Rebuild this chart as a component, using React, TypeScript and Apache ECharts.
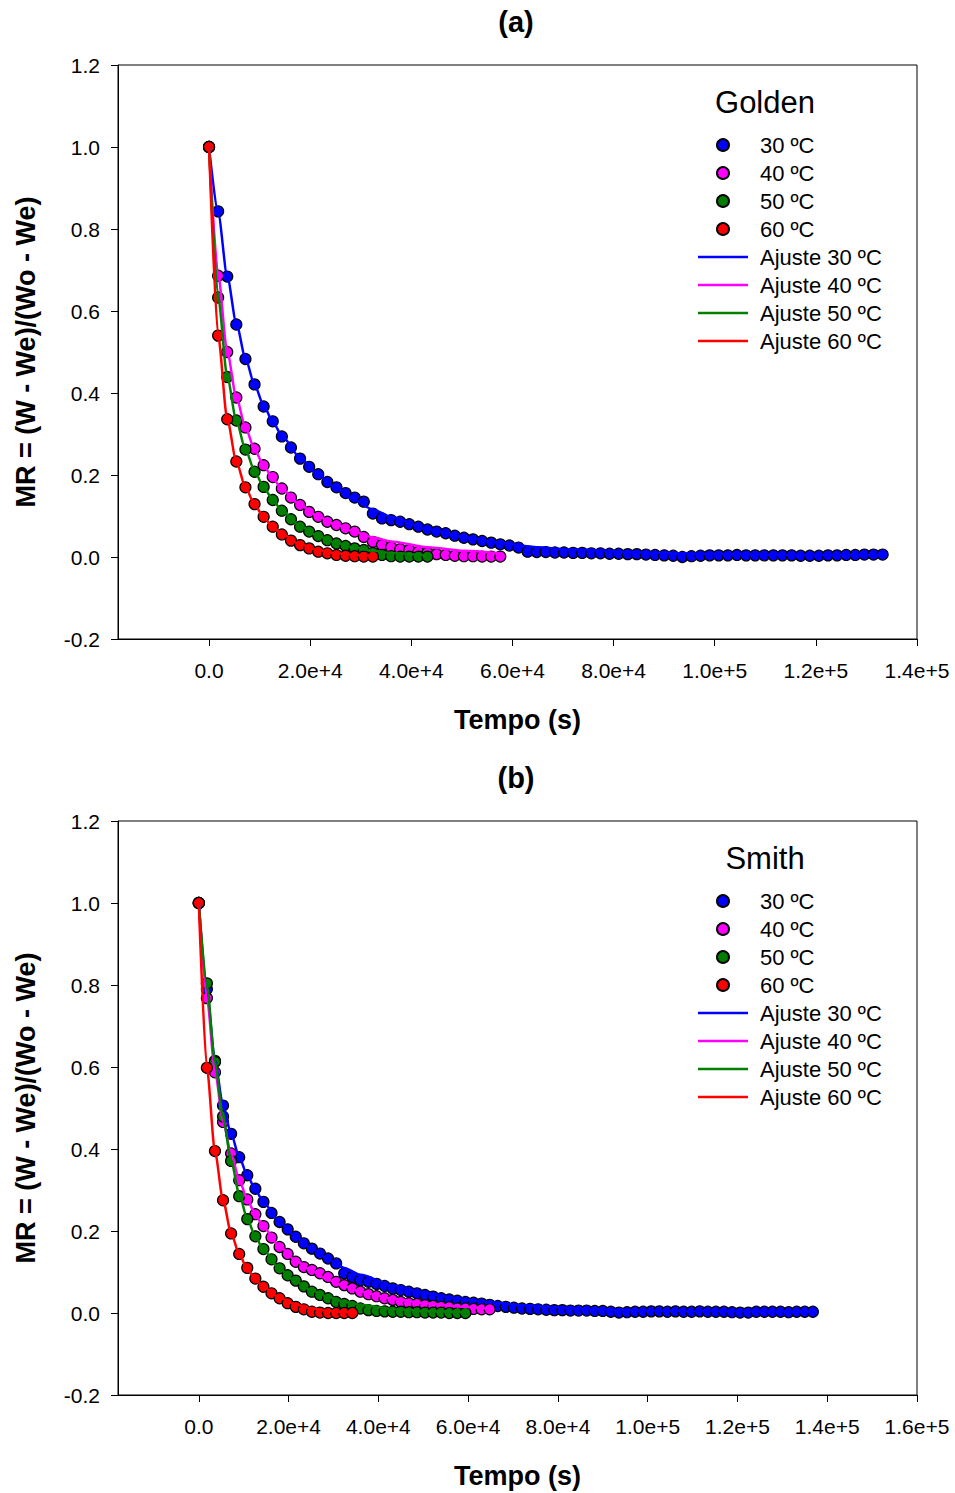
import React, { useEffect, useRef } from 'react';
import * as echarts from 'echarts';

const FONT = '"Liberation Sans", Arial, Helvetica, sans-serif';
const SAMPLE_INTERVAL_S = 1800;

const TEMP_NAMES = ['30 ºC', '40 ºC', '50 ºC', '60 ºC'];
const FIT_NAMES = ['Ajuste 30 ºC', 'Ajuste 40 ºC', 'Ajuste 50 ºC', 'Ajuste 60 ºC'];
const COLORS = ['#0000FF', '#FF00FF', '#007F00', '#FF0000'];
const PANEL_TITLES = ['(a)', '(b)'];
const MODEL_NAMES = ['Golden', 'Smith'];
const X_MAX = [140000, 160000];
const X_TICKS_A = [0, 20000, 40000, 60000, 80000, 100000, 120000, 140000];
const X_TICKS_B = [0, 20000, 40000, 60000, 80000, 100000, 120000, 140000, 160000];

// ---- Panel (a): Golden ----
const golden30 = [
  1.000, 0.843, 0.684, 0.567, 0.483, 0.421, 0.367, 0.331, 0.294, 0.267,
  0.240, 0.220, 0.202, 0.183, 0.170, 0.156, 0.145, 0.135, 0.106, 0.094,
  0.090, 0.086, 0.080, 0.074, 0.067, 0.062, 0.058, 0.052, 0.047, 0.043,
  0.039, 0.035, 0.031, 0.028, 0.023, 0.013, 0.012, 0.012, 0.011, 0.011,
  0.010, 0.010, 0.009, 0.009, 0.008, 0.008, 0.007, 0.007, 0.006, 0.005,
  0.004, 0.003, 0.000, 0.002, 0.003, 0.004, 0.004, 0.004, 0.005, 0.004,
  0.004, 0.004, 0.004, 0.004, 0.004, 0.003, 0.003, 0.003, 0.004, 0.004,
  0.005, 0.005, 0.006, 0.006, 0.006,
];
const golden40 = [
  1.000, 0.686, 0.500, 0.389, 0.316, 0.264, 0.224, 0.195, 0.167, 0.145,
  0.127, 0.110, 0.098, 0.086, 0.078, 0.070, 0.062, 0.049, 0.037, 0.029,
  0.024, 0.019, 0.017, 0.013, 0.010, 0.007, 0.005, 0.003, 0.002, 0.002,
  0.001, 0.001, 0.001,
];
const golden50 = [
  1.000, 0.633, 0.439, 0.333, 0.262, 0.208, 0.171, 0.139, 0.113, 0.092,
  0.074, 0.062, 0.051, 0.041, 0.033, 0.027, 0.021, 0.017, 0.010, 0.005,
  0.002, 0.001, 0.001, 0.001, 0.001,
];
const golden60 = [
  1.000, 0.540, 0.336, 0.233, 0.170, 0.129, 0.098, 0.074, 0.055, 0.040,
  0.029, 0.021, 0.013, 0.009, 0.005, 0.003, 0.002, 0.001, 0.001,
];

// Fitted curves (a)
const fitGolden30T = [0, 1800, 3600, 5400, 7200, 9000, 10800, 12600, 14400, 18000, 21600, 25200, 28800, 32400, 36000, 43200, 50400, 57600, 64800, 72000, 86400, 100800, 115200, 133200];
const fitGolden30V = [1.0, 0.84, 0.685, 0.57, 0.485, 0.42, 0.37, 0.33, 0.296, 0.242, 0.2, 0.166, 0.138, 0.116, 0.098, 0.068, 0.049, 0.034, 0.024, 0.018, 0.011, 0.007, 0.005, 0.004];
const fitGolden40T = [0, 1800, 3600, 5400, 7200, 9000, 10800, 12600, 14400, 18000, 21600, 25200, 28800, 32400, 36000, 43200, 50400, 57600];
const fitGolden40V = [1.0, 0.69, 0.5, 0.39, 0.316, 0.263, 0.223, 0.192, 0.166, 0.127, 0.099, 0.078, 0.061, 0.048, 0.038, 0.024, 0.015, 0.009];
const fitGolden50T = [0, 1800, 3600, 5400, 7200, 9000, 10800, 12600, 14400, 18000, 21600, 25200, 28800, 32400, 36000, 43200];
const fitGolden50V = [1.0, 0.635, 0.44, 0.333, 0.262, 0.21, 0.171, 0.139, 0.113, 0.076, 0.051, 0.034, 0.023, 0.015, 0.01, 0.004];
const fitGolden60T = [0, 1800, 3600, 5400, 7200, 9000, 10800, 12600, 14400, 18000, 21600, 25200, 28800, 32400];
const fitGolden60V = [1.0, 0.54, 0.336, 0.233, 0.17, 0.128, 0.097, 0.074, 0.056, 0.031, 0.017, 0.009, 0.005, 0.003];

// ---- Panel (b): Smith ----
const smith30 = [
  1.000, 0.790, 0.615, 0.506, 0.437, 0.380, 0.336, 0.303, 0.271, 0.244,
  0.222, 0.204, 0.186, 0.170, 0.157, 0.145, 0.133, 0.121, 0.097, 0.088,
  0.080, 0.076, 0.071, 0.066, 0.060, 0.056, 0.052, 0.048, 0.044, 0.040,
  0.036, 0.033, 0.030, 0.027, 0.025, 0.023, 0.020, 0.017, 0.015, 0.013,
  0.011, 0.010, 0.009, 0.008, 0.007, 0.007, 0.006, 0.006, 0.006, 0.005,
  0.005, 0.003, 0.001, 0.002, 0.003, 0.003, 0.004, 0.004, 0.003, 0.004,
  0.003, 0.003, 0.004, 0.003, 0.003, 0.003, 0.002, 0.001, 0.001, 0.003,
  0.003, 0.003, 0.003, 0.002, 0.003, 0.003, 0.003,
];
const smith40 = [
  1.000, 0.768, 0.587, 0.466, 0.389, 0.324, 0.277, 0.241, 0.212, 0.184,
  0.161, 0.144, 0.125, 0.112, 0.105, 0.097, 0.088, 0.076, 0.068, 0.060,
  0.052, 0.046, 0.041, 0.036, 0.032, 0.027, 0.024, 0.022, 0.019, 0.017,
  0.015, 0.014, 0.011, 0.011, 0.010, 0.009, 0.009,
];
const smith50 = [
  1.000, 0.804, 0.612, 0.479, 0.371, 0.285, 0.229, 0.187, 0.156, 0.131,
  0.109, 0.092, 0.079, 0.065, 0.052, 0.044, 0.036, 0.027, 0.022, 0.017,
  0.011, 0.007, 0.005, 0.004, 0.003, 0.003, 0.002, 0.002, 0.001, 0.001,
  0.001, 0.000, 0.000, 0.000,
];
const smith60 = [
  1.000, 0.598, 0.395, 0.275, 0.194, 0.144, 0.110, 0.084, 0.064, 0.048,
  0.036, 0.024, 0.015, 0.009, 0.003, 0.001, 0.000, 0.000, 0.000, 0.000,
];

// Fitted curves (b)
const fitSmith30T = [0, 1800, 3600, 5400, 7200, 9000, 10800, 12600, 14400, 18000, 21600, 25200, 28800, 32400, 36000, 43200, 50400, 57600, 64800, 72000, 86400, 100800, 115200, 136800];
const fitSmith30V = [1.0, 0.785, 0.615, 0.506, 0.437, 0.381, 0.336, 0.301, 0.27, 0.222, 0.186, 0.156, 0.131, 0.11, 0.093, 0.067, 0.049, 0.036, 0.026, 0.019, 0.01, 0.006, 0.004, 0.003];
const fitSmith40T = [0, 1800, 3600, 5400, 7200, 9000, 10800, 12600, 14400, 18000, 21600, 25200, 28800, 32400, 36000, 43200, 50400, 57600, 64800];
const fitSmith40V = [1.0, 0.77, 0.59, 0.468, 0.388, 0.325, 0.277, 0.24, 0.21, 0.162, 0.128, 0.102, 0.081, 0.065, 0.052, 0.035, 0.024, 0.016, 0.011];
const fitSmith50T = [0, 1800, 3600, 5400, 7200, 9000, 10800, 12600, 14400, 18000, 21600, 25200, 28800, 32400, 36000, 43200, 50400, 59400];
const fitSmith50V = [1.0, 0.8, 0.612, 0.478, 0.372, 0.29, 0.23, 0.186, 0.154, 0.107, 0.076, 0.055, 0.039, 0.028, 0.02, 0.01, 0.005, 0.002];
const fitSmith60T = [0, 1800, 3600, 5400, 7200, 9000, 10800, 12600, 14400, 18000, 21600, 25200, 28800, 34200];
const fitSmith60V = [1.0, 0.598, 0.394, 0.275, 0.195, 0.143, 0.108, 0.082, 0.063, 0.037, 0.021, 0.011, 0.005, 0.001];

const POINTS = [
  [golden30, golden40, golden50, golden60],
  [smith30, smith40, smith50, smith60],
];
const FITS = [
  [[fitGolden30T, fitGolden30V], [fitGolden40T, fitGolden40V], [fitGolden50T, fitGolden50V], [fitGolden60T, fitGolden60V]],
  [[fitSmith30T, fitSmith30V], [fitSmith40T, fitSmith40V], [fitSmith50T, fitSmith50V], [fitSmith60T, fitSmith60V]],
];

const toPairs = (vals: number[]) => vals.map((v, i) => [i * SAMPLE_INTERVAL_S, v]);
const zip = (t: number[], v: number[]) => t.map((x, i) => [x, v[i]]);

const fmtX = (v: number) => {
  if (v === 0) return '0.0';
  const e = Math.floor(Math.log10(Math.abs(v)) + 1e-9);
  const m = v / Math.pow(10, e);
  return m.toFixed(1) + 'e+' + e;
};

const GRID_TOPS = [65, 821];
const LINE_ICON = 'path://M0,0 L50,0 L50,2.5 L0,2.5 Z';

function buildOption() {
  const grids = GRID_TOPS.map((top) => ({
    left: 118, top, width: 799, height: 574,
    show: true, borderColor: '#000', borderWidth: 1, backgroundColor: 'transparent',
  }));
  const xAxes = [0, 1].map((p) => {
    const ticks = p === 0 ? X_TICKS_A : X_TICKS_B;
    return {
      type: 'value', gridIndex: p, min: -18000, max: X_MAX[p],
      position: 'bottom',
      name: 'Tempo (s)', nameLocation: 'middle', nameGap: 67,
      nameTextStyle: { fontFamily: FONT, fontSize: 27, fontWeight: 'bold', color: '#000' },
      axisLine: { show: true, onZero: false, lineStyle: { color: '#000', width: 1 } },
      axisTick: { show: true, inside: false, length: 7, customValues: ticks, lineStyle: { color: '#000' } },
      axisLabel: { customValues: ticks, formatter: fmtX, fontFamily: FONT, fontSize: 21, color: '#000', margin: 21 },
      splitLine: { show: false },
    };
  });
  const yAxes = [0, 1].map((p) => ({
    type: 'value', gridIndex: p, min: -0.2, max: 1.2, interval: 0.2,
    name: 'MR = (W - We)/(Wo - We)', nameLocation: 'middle', nameGap: 79,
    nameTextStyle: { fontFamily: FONT, fontSize: 27, fontWeight: 'bold', color: '#000' },
    axisLine: { show: true, onZero: false, lineStyle: { color: '#000', width: 1 } },
    axisTick: { show: true, inside: false, length: 7, lineStyle: { color: '#000' } },
    axisLabel: { formatter: (v: number) => v.toFixed(1), fontFamily: FONT, fontSize: 21, color: '#000', margin: 18 },
    splitLine: { show: false },
  }));

  const series: any[] = [];
  for (let p = 0; p < 2; p++) {
    for (let k = 0; k < 4; k++) {
      series.push({
        type: 'scatter', name: TEMP_NAMES[k], xAxisIndex: p, yAxisIndex: p,
        data: toPairs(POINTS[p][k]), symbol: 'circle', symbolSize: 11, z: 2,
        itemStyle: { color: COLORS[k], borderColor: '#000', borderWidth: 1.2, opacity: 1 },
      });
    }
    for (let k = 0; k < 4; k++) {
      series.push({
        type: 'line', name: FIT_NAMES[k], xAxisIndex: p, yAxisIndex: p,
        data: zip(FITS[p][k][0], FITS[p][k][1]), showSymbol: false, symbol: 'none',
        smooth: 0.25, smoothMonotone: 'x', z: 3,
        lineStyle: { color: COLORS[k], width: 2.5 },
        itemStyle: { color: COLORS[k] },
      });
    }
  }

  const legends = GRID_TOPS.map((top) => ({
    orient: 'vertical', left: 698, top: top + 66, padding: 0,
    itemWidth: 50, itemHeight: 12, itemGap: 0, selectedMode: false,
    textStyle: { fontFamily: FONT, fontSize: 22, color: '#000', lineHeight: 28, padding: [0, 0, 0, 7] },
    data: [
      ...TEMP_NAMES.map((n) => ({ name: n, icon: 'circle' })),
      ...FIT_NAMES.map((n) => ({ name: n, icon: LINE_ICON, itemStyle: { borderWidth: 0 } })),
    ],
  }));

  const graphic = [0, 1].flatMap((p) => [
    {
      type: 'text', x: 516, y: GRID_TOPS[p] - 43,
      style: { text: PANEL_TITLES[p], font: `bold 29px ${FONT}`, fill: '#000', textAlign: 'center', textVerticalAlign: 'middle' },
    },
    {
      type: 'text', x: 765, y: GRID_TOPS[p] + 37,
      style: { text: MODEL_NAMES[p], font: `31px ${FONT}`, fill: '#000', textAlign: 'center', textVerticalAlign: 'middle' },
    },
  ]);

  return {
    animation: false,
    backgroundColor: '#fff',
    textStyle: { fontFamily: FONT },
    grid: grids, xAxis: xAxes, yAxis: yAxes, series, legend: legends, graphic,
  };
}

export default function App() {
  const ref = useRef<HTMLDivElement>(null);
  useEffect(() => {
    if (!ref.current) return;
    const chart = echarts.init(ref.current, undefined, { renderer: 'svg' });
    chart.setOption(buildOption() as any);
    return () => chart.dispose();
  }, []);
  return <div ref={ref} style={{ position: 'absolute', left: 0, top: 0, width: 955, height: 1493 }} />;
}
